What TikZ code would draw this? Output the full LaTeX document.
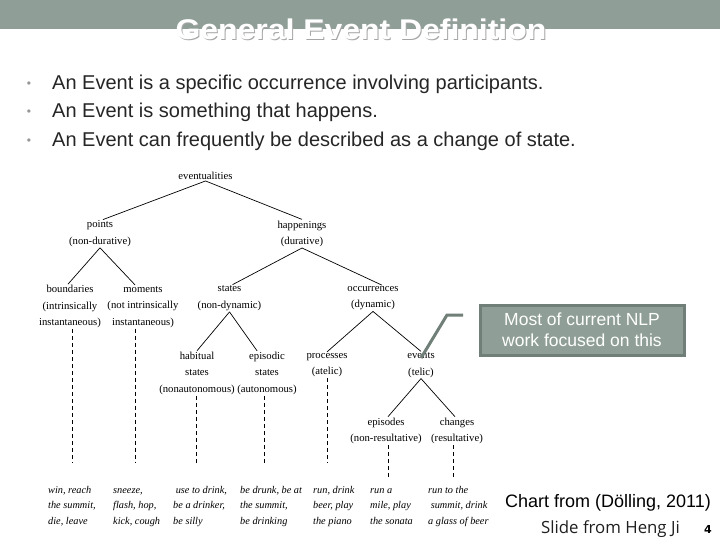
\documentclass[tikz,border=0pt]{standalone}
\usepackage{fontspec}
\setmainfont{Liberation Serif}
\newfontfamily\arialfont{Liberation Sans}
\newfontfamily\titlefont{Liberation Sans}[FakeStretch=1.12]
\newfontfamily\opensans{Open Sans}
\newfontfamily\dejavu{DejaVu Sans}
\usetikzlibrary{calc}
\definecolor{bar}{RGB}{143,159,151}
\definecolor{barline}{RGB}{112,127,119}
\definecolor{bultext}{RGB}{38,38,38}
\definecolor{bulgray}{RGB}{150,150,150}
\tikzset{
  tn/.style={font=\fontsize{10.7}{16.5}\selectfont, align=center, inner sep=1pt},
  leaf/.style={font=\itshape\fontsize{10.3}{15.5}\selectfont, align=left, inner sep=0pt, anchor=north west},
  br/.style={line width=0.7pt, black},
  dl/.style={line width=0.8pt, black, dash pattern=on 4pt off 3pt},
  bul/.style={font=\arialfont\fontsize{20}{24}\selectfont, text=bultext, anchor=base west, inner sep=0pt},
  dot/.style={font=\arialfont\fontsize{12}{12}\selectfont, text=bulgray, inner sep=0pt},
}
\begin{document}
\begin{tikzpicture}[x=1pt,y=-1pt]
\useasboundingbox (0,0) rectangle (720,540);
\fill[white] (0,0) rectangle (720,540);
\fill[bar] (0,0) rectangle (720,29);
% title
\node[font=\titlefont\bfseries\fontsize{28.5}{30}\selectfont, text=black!35, inner sep=0pt] (tshadow) at (362,30.5) {General Event Definition};
\node[font=\titlefont\bfseries\fontsize{28.5}{30}\selectfont, text=white, inner sep=0pt] (title) at (361,29.5) {General Event Definition};
% bullets
\node[dot] (d1) at (29,85) {•};
\node[dot] (d2) at (29,113) {•};
\node[dot] (d3) at (29,142) {•};
\node[bul] (b1) at (52,90) {An Event is a specific occurrence involving participants.};
\node[bul] (b2) at (52,117.5) {An Event is something that happens.};
\node[bul] (b3) at (52,146.5) {An Event can frequently be described as a change of state.};
% tree
\node[tn] (ev) at (205.5,176) {eventualities};
\node[tn] (pts) at (100,233.7) {points\\(non-durative)};
\node[tn] (hap) at (302,233.7) {happenings\\(durative)};
\node[tn] (bnd) at (70,306.7) {boundaries\\(intrinsically\\instantaneous)};
\node[tn] (mom) at (143,306.7) {moments\\(not intrinsically\\instantaneous)};
\node[tn] (sta) at (229.5,298.3) {states\\(non-dynamic)};
\node[tn] (occ) at (373,298.3) {occurrences\\(dynamic)};
\node[tn] (hab) at (197,373.3) {habitual\\states\\(nonautonomous)};
\node[tn] (epi) at (267,373.3) {episodic\\states\\(autonomous)};
\node[tn] (pro) at (327,365) {processes\\(atelic)};
\node[tn] (evt) at (421,365) {events\\(telic)};
\node[tn] (eps) at (386,431) {episodes\\(non-resultative)};
\node[tn] (chg) at (457,431) {changes\\(resultative)};
% branches
\draw[br] (ev.south) -- ([xshift=3pt]pts.north);
\draw[br] (ev.south) -- (hap.north);
\draw[br] (pts.south) -- ([xshift=-2pt]bnd.north);
\draw[br] (pts.south) -- ([xshift=-8pt]mom.north);
\draw[br] (hap.south) -- ([xshift=3pt]sta.north);
\draw[br] (hap.south) -- ([xshift=9pt]occ.north);
\draw[br] (sta.south) -- (hab.north);
\draw[br] (sta.south) -- ([xshift=-10pt]epi.north);
\draw[br] (occ.south) -- (pro.north);
\draw[br] (occ.south) -- (evt.north);
\draw[br] (evt.south) -- ([xshift=2pt]eps.north);
\draw[br] (evt.south) -- ([xshift=-2pt]chg.north);
% dashed ends
\coordinate (e1) at (72,463);
\coordinate (e2) at (135,463);
\coordinate (e3) at (196,465);
\coordinate (e4) at (264,463);
\coordinate (e5) at (327,463);
\coordinate (e6) at (388,478);
\coordinate (e7) at (453,478);
\draw[dl] (bnd.south -| e1) -- (e1);
\draw[dl] (mom.south -| e2) -- (e2);
\draw[dl] (hab.south -| e3) -- (e3);
\draw[dl] (epi.south -| e4) -- (e4);
\draw[dl] (pro.south -| e5) -- (e5);
\draw[dl] (eps.south -| e6) -- (e6);
\draw[dl] (chg.south -| e7) -- (e7);
% leaves
\node[leaf] (l1) at (48,482) {\strut win, reach\\the summit,\\die, leave};
\node[leaf] (l2) at (113,482) {\strut sneeze,\\flash, hop,\\kick, cough};
\node[leaf] (l3) at (173,482) {\strut\ use to drink,\\be a drinker,\\be silly};
\node[leaf] (l4) at (240,482) {\strut be drunk, be at\\the summit,\\be drinking};
\node[leaf] (l5) at (313,482) {\strut run, drink\\beer, play\\the piano};
\node[leaf] (l6) at (370,482) {\strut run a\\mile, play\\the sonata};
\node[leaf] (l7) at (428,482) {\strut run to the\\\ summit, drink\\a glass of beer};
% callout
\node[draw=barline, fill=bar, line width=3pt, minimum width=204pt, minimum height=50pt, inner sep=0pt,
      font=\arialfont\fontsize{17.5}{21}\selectfont, text=white, align=center] (note) at (582,330)
      {Most of current NLP\\work focused on this};
\coordinate (k1) at (463,315);
\coordinate (k2) at (447,315);
\coordinate (k3) at (421,358);
\draw[barline, line width=3pt] (k1) -- (k2) -- (k3);
% credits
\node[font=\arialfont\fontsize{18}{20}\selectfont, anchor=base east, inner sep=0pt] (chart) at (711,507) {Chart from (Dölling, 2011)};
\node[font=\opensans\fontsize{16.8}{20}\selectfont, text=black!88, anchor=base west, inner sep=0pt] (slide) at (541,533) {Slide from Heng Ji};
\node[font=\dejavu\bfseries\fontsize{11}{12}\selectfont, anchor=base west, inner sep=0pt] (pg) at (704,533) {4};
\end{tikzpicture}
\end{document}
